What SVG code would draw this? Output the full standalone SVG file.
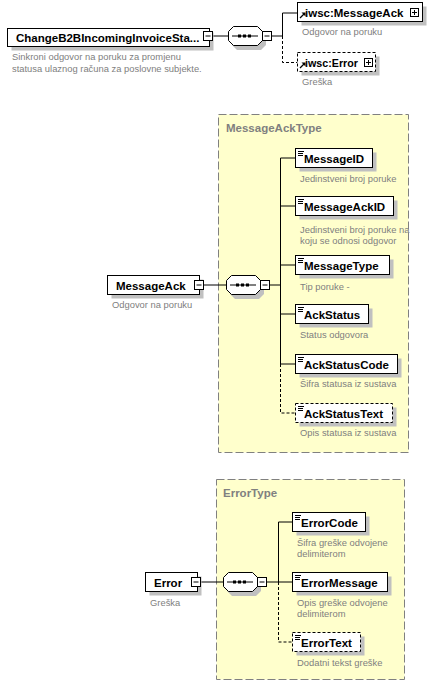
<svg xmlns="http://www.w3.org/2000/svg" xmlns:xlink="http://www.w3.org/1999/xlink" width="438" height="694" viewBox="0 0 438 694">
<style>
.box{fill:#fff;stroke:#000;stroke-width:1}
.opt{stroke-dasharray:3 2}
.sh{fill:#c0c0c0}
.name{font-family:"Liberation Sans",Arial,sans-serif;font-weight:bold;font-size:11.5px;fill:#000}
.desc{font-family:"Liberation Sans",Arial,sans-serif;font-size:9.4px;fill:#808080}
.title{font-family:"Liberation Sans",Arial,sans-serif;font-weight:bold;font-size:11.5px;fill:#808080}
.conn{stroke:#000;stroke-width:1;fill:none}
.dash{stroke-dasharray:3 2}
.type{fill:#ffffcc;stroke:#808080;stroke-width:1;stroke-dasharray:8 3}
</style>
<defs>
<g id="minus"><rect x="0.5" y="0.5" width="9" height="9" fill="#fff" stroke="#000"/><line x1="2.5" y1="5" x2="7.5" y2="5" stroke="#000"/></g>
<g id="plus"><rect x="0.5" y="0.5" width="8" height="8" fill="#fff" stroke="#000"/><line x1="2" y1="4.5" x2="7" y2="4.5" stroke="#000"/><line x1="4.5" y1="2" x2="4.5" y2="7" stroke="#000"/></g>
<g id="doc"><path d="M1 2.5h6M1 4.5h5M1 6.5h5" stroke="#000" fill="none"/></g>
<g id="ref"><path d="M2 7L6.5 2.5" stroke="#000" fill="none" stroke-width="1.3"/><path d="M3.5 1.5H7.5V5.5Z" fill="#000"/></g>
<g id="seq">
<polygon points="9,4 33,4 38,9 38,19 33,24 9,24 4,19 4,9" fill="#c0c0c0"/>
<polygon points="5.5,0.5 29.5,0.5 34.5,5.5 34.5,14.5 29.5,19.5 5.5,19.5 0.5,14.5 0.5,5.5" fill="#fff" stroke="#000"/>
<line x1="4" y1="10" x2="30" y2="10" stroke="#000"/>
<rect x="10" y="8.5" width="3" height="3" fill="#000"/>
<rect x="15" y="8.5" width="3" height="3" fill="#000"/>
<rect x="20" y="8.5" width="3" height="3" fill="#000"/>
</g>
</defs>
<rect width="438" height="694" fill="#fff"/>

<!-- type containers -->
<g id="MessageAckType">
<rect class="type" x="218.5" y="114.5" width="190" height="338"/>
<text class="title" x="226" y="132">MessageAckType</text>
</g>
<g id="ErrorType">
<rect class="type" x="216.5" y="479.5" width="188" height="200"/>
<text class="title" x="223" y="497">ErrorType</text>
</g>

<!-- connectors -->
<g id="connectors">
<path class="conn" d="M212.5 36H228"/>
<path class="conn" d="M271.5 36H282.5V13H297.5"/>
<path class="conn dash" d="M282.5 36V62.5H297.5"/>

<path class="conn" d="M203.5 285H226"/>
<path class="conn" d="M269.5 285H280.5"/>
<path class="conn" d="M280.5 158V364"/>
<path class="conn" d="M280.5 158H295.5M280.5 206H295.5M280.5 265H295.5M280.5 314H295.5M280.5 364H295.5"/>
<path class="conn dash" d="M280.5 364V413H295.5"/>

<path class="conn" d="M200.5 582H223"/>
<path class="conn" d="M266.5 582H292.5"/>
<path class="conn" d="M278.5 522V582M278.5 522H292.5"/>
<path class="conn dash" d="M278.5 582V642H292.5"/>
</g>

<!-- top -->
<g id="ChangeB2BIncomingInvoiceStatus">
<rect class="sh" x="11.5" y="32.5" width="202" height="18"/>
<rect class="box" x="7.5" y="28.5" width="202" height="18"/>
<use xlink:href="#minus" x="203" y="31"/>
<text class="name" x="16" y="41.5">ChangeB2BIncomingInvoiceSta...</text>
<text class="desc" x="12" y="60">Sinkroni odgovor na poruku za promjenu</text>
<text class="desc" x="12" y="72">statusa ulaznog računa za poslovne subjekte.</text>
</g>
<g id="seq1"><use xlink:href="#seq" x="228" y="26"/><use xlink:href="#minus" x="262" y="31"/></g>
<g id="iwscMessageAck">
<rect class="sh" x="301.5" y="6.5" width="125" height="19"/>
<rect class="box" x="297.5" y="2.5" width="125" height="19"/>
<use xlink:href="#ref" x="298" y="11"/>
<use xlink:href="#plus" x="410" y="8"/>
<text class="name" x="305" y="16.5">iwsc:MessageAck</text>
<text class="desc" x="302" y="35">Odgovor na poruku</text>
</g>
<g id="iwscError">
<rect class="sh" x="301.5" y="56.5" width="78" height="19"/>
<rect class="box opt" x="297.5" y="52.5" width="78" height="19"/>
<use xlink:href="#ref" x="298" y="61"/>
<use xlink:href="#plus" x="364" y="58"/>
<text class="name" x="305" y="66.5" textLength="53" lengthAdjust="spacingAndGlyphs">iwsc:Error</text>
<text class="desc" x="302" y="85">Greška</text>
</g>

<!-- middle -->
<g id="MessageAck">
<rect class="sh" x="111.5" y="279.5" width="92" height="19"/>
<rect class="box" x="107.5" y="275.5" width="92" height="19"/>
<use xlink:href="#minus" x="194" y="280"/>
<text class="name" x="116" y="289.5">MessageAck</text>
<text class="desc" x="112" y="308">Odgovor na poruku</text>
</g>
<g id="seq2"><use xlink:href="#seq" x="226" y="275"/><use xlink:href="#minus" x="260" y="280"/></g>
<g id="MessageID">
<rect class="sh" x="299.5" y="152.5" width="77" height="19"/>
<rect class="box" x="295.5" y="148.5" width="77" height="19"/>
<use xlink:href="#doc" x="297" y="149"/>
<text class="name" x="304" y="162.5">MessageID</text>
<text class="desc" x="300" y="182">Jedinstveni broj poruke</text>
</g>
<g id="MessageAckID">
<rect class="sh" x="299.5" y="200.5" width="98" height="19"/>
<rect class="box" x="295.5" y="196.5" width="98" height="19"/>
<use xlink:href="#doc" x="297" y="197"/>
<text class="name" x="304" y="210.5">MessageAckID</text>
<text class="desc" x="300" y="233">Jedinstveni broj poruke na</text>
<text class="desc" x="300" y="244">koju se odnosi odgovor</text>
</g>
<g id="MessageType">
<rect class="sh" x="299.5" y="259.5" width="94" height="19"/>
<rect class="box" x="295.5" y="255.5" width="94" height="19"/>
<use xlink:href="#doc" x="297" y="256"/>
<text class="name" x="304" y="269.5">MessageType</text>
<text class="desc" x="300" y="290">Tip poruke -</text>
</g>
<g id="AckStatus">
<rect class="sh" x="299.5" y="308.5" width="73" height="19"/>
<rect class="box" x="295.5" y="304.5" width="73" height="19"/>
<use xlink:href="#doc" x="297" y="305"/>
<text class="name" x="304" y="318.5">AckStatus</text>
<text class="desc" x="300" y="338">Status odgovora</text>
</g>
<g id="AckStatusCode">
<rect class="sh" x="299.5" y="358.5" width="102" height="19"/>
<rect class="box" x="295.5" y="354.5" width="102" height="19"/>
<use xlink:href="#doc" x="297" y="355"/>
<text class="name" x="304" y="368.5">AckStatusCode</text>
<text class="desc" x="300" y="387">Šifra statusa iz sustava</text>
</g>
<g id="AckStatusText">
<rect class="sh" x="299.5" y="407.5" width="97" height="19"/>
<rect class="box opt" x="295.5" y="403.5" width="97" height="19"/>
<use xlink:href="#doc" x="297" y="404"/>
<text class="name" x="304" y="417.5">AckStatusText</text>
<text class="desc" x="300" y="436">Opis statusa iz sustava</text>
</g>

<!-- bottom -->
<g id="Error">
<rect class="sh" x="149.5" y="576.5" width="52" height="19"/>
<rect class="box" x="145.5" y="572.5" width="52" height="19"/>
<use xlink:href="#minus" x="191" y="577"/>
<text class="name" x="154" y="586.5">Error</text>
<text class="desc" x="150" y="606">Greška</text>
</g>
<g id="seq3"><use xlink:href="#seq" x="223" y="572"/><use xlink:href="#minus" x="257" y="577"/></g>
<g id="ErrorCode">
<rect class="sh" x="296.5" y="516.5" width="73" height="19"/>
<rect class="box" x="292.5" y="512.5" width="73" height="19"/>
<use xlink:href="#doc" x="294" y="513"/>
<text class="name" x="301" y="526.5">ErrorCode</text>
<text class="desc" x="297" y="546">Šifra greške odvojene</text>
<text class="desc" x="297" y="557">delimiterom</text>
</g>
<g id="ErrorMessage">
<rect class="sh" x="296.5" y="576.5" width="95" height="19"/>
<rect class="box" x="292.5" y="572.5" width="95" height="19"/>
<use xlink:href="#doc" x="294" y="573"/>
<text class="name" x="301" y="586.5">ErrorMessage</text>
<text class="desc" x="297" y="606">Opis greške odvojene</text>
<text class="desc" x="297" y="617">delimiterom</text>
</g>
<g id="ErrorText">
<rect class="sh" x="296.5" y="636.5" width="68" height="19"/>
<rect class="box opt" x="292.5" y="632.5" width="68" height="19"/>
<use xlink:href="#doc" x="294" y="633"/>
<text class="name" x="301" y="646.5">ErrorText</text>
<text class="desc" x="297" y="666">Dodatni tekst greške</text>
</g>
</svg>
